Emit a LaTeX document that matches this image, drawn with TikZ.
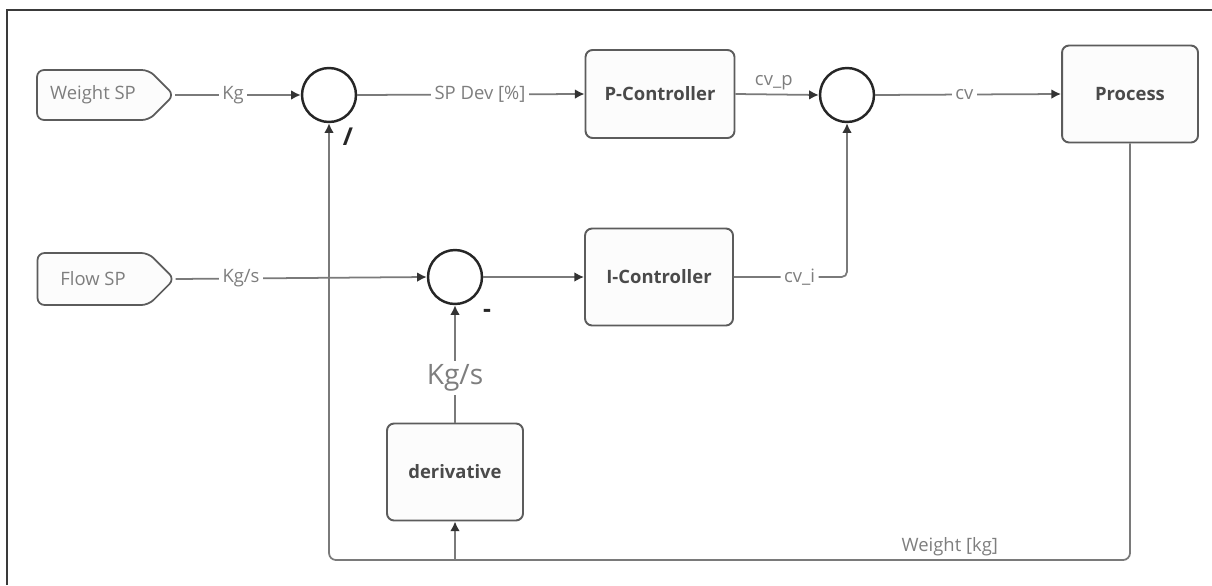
\documentclass[tikz,border=0pt]{standalone}
\usepackage{fontspec}
\setmainfont{Open Sans}
\usetikzlibrary{shapes.symbols,arrows.meta,positioning}

\definecolor{linegray}{HTML}{7A7A7A}
\definecolor{boxgray}{HTML}{5C5C5C}
\definecolor{textgray}{HTML}{7E7E7E}
\definecolor{boldgray}{HTML}{4A4A4A}
\definecolor{boxfill}{HTML}{FCFCFC}
\definecolor{framegray}{HTML}{3A3A3A}

\tikzset{
  ctrlbox/.style={draw=boxgray, line width=1.1pt, fill=boxfill, rounded corners=4pt,
    text=boldgray, font=\fontsize{10.5}{12}\selectfont\bfseries, inner sep=0pt},
  spsignal/.style={signal, signal to=east, draw=boxgray, line width=1pt, fill=boxfill,
    rounded corners=4pt, text=textgray, font=\fontsize{10.5}{12}\selectfont,
    minimum width=2.74cm, minimum height=1cm, inner sep=0pt},
  sumnode/.style={circle, draw=black!85, line width=1.4pt, fill=white,
    minimum size=1.08cm, inner sep=0pt},
  wire/.style={draw=linegray, line width=1pt},
  arr/.style={wire, -{Latex[length=5.5pt,width=5.5pt,color=black!80]}},
  wirelabel/.style={fill=white, text=textgray, font=\fontsize{10.5}{12}\selectfont, inner sep=2pt},
  signmark/.style={text=black!85, font=\fontsize{14}{16}\selectfont\bfseries},
}

\begin{document}
\begin{tikzpicture}[x=0.02cm, y=-0.02cm]

        \useasboundingbox (0,0) rectangle (1212,585);

        %Frame
        \draw [framegray, line width=1.1pt] (7,585) -- (7,10) -- (1212,10);

        %Setpoints
        \node [spsignal] (wsp) at (93,95) {Weight SP};
        \node [spsignal, minimum height=1.04cm] (fsp) at (93,279) {Flow SP};

        %Summing points
        \node [sumnode] (sum1) at (329,95) {};
        \node [sumnode] (sum2) at (847,95) {};
        \node [sumnode] (sum3) at (455,277) {};

        %Blocks
        \node [ctrlbox, minimum width=2.98cm, minimum height=1.76cm] (pc) at (660,94) {P-Controller};
        \node [ctrlbox, minimum width=2.72cm, minimum height=1.94cm] (proc) at (1130,94) {Process};
        \node [ctrlbox, minimum width=2.96cm, minimum height=1.94cm] (ic) at (659,277) {I-Controller};
        \node [ctrlbox, minimum width=2.72cm, minimum height=1.94cm] (deriv) at (455,472) {derivative};

        %Signs
        \node [signmark] (slash) at (348,137) {/};
        \node [signmark] (minus) at (487,313) {-};

        %Forward path
        \draw [arr] (wsp.east) -- node [wirelabel, pos=0.46] {Kg} (sum1.west);
        \draw [arr] (sum1.east) -- node [wirelabel, pos=0.54] {SP Dev [\%]} (pc.west);
        \draw [arr] (pc.east) -- node [wirelabel, fill=none, above, pos=0.46] {cv\_p} (sum2.west);
        \draw [arr] (sum2.east) -- node [wirelabel, pos=0.48] {cv} (proc.west);

        \draw [arr] (fsp.east) -- node [wirelabel, pos=0.26] {Kg/s} (sum3.west);
        \draw [arr] (sum3.east) -- (ic.west);
        \draw [arr, rounded corners=3pt] (ic.east) -| node [wirelabel, pos=0.29] {cv\_i} (sum2.south);

        %Feedback
        \coordinate (fbr) at (1130,560);
        \coordinate (fbl) at (329,560);
        \draw [arr, rounded corners=4pt] (proc.south) -- (fbr)
          -- node [wirelabel, fill=none, above, pos=0.225] {Weight [kg]} (fbl) -- (sum1.south);
        \draw [arr] (deriv.south |- fbl) -- (deriv.south);
        \draw [arr] (deriv.north) -- node [wirelabel, font=\fontsize{16}{18}\selectfont, pos=0.38] {Kg/s} (sum3.south);

\end{tikzpicture}
\end{document}
